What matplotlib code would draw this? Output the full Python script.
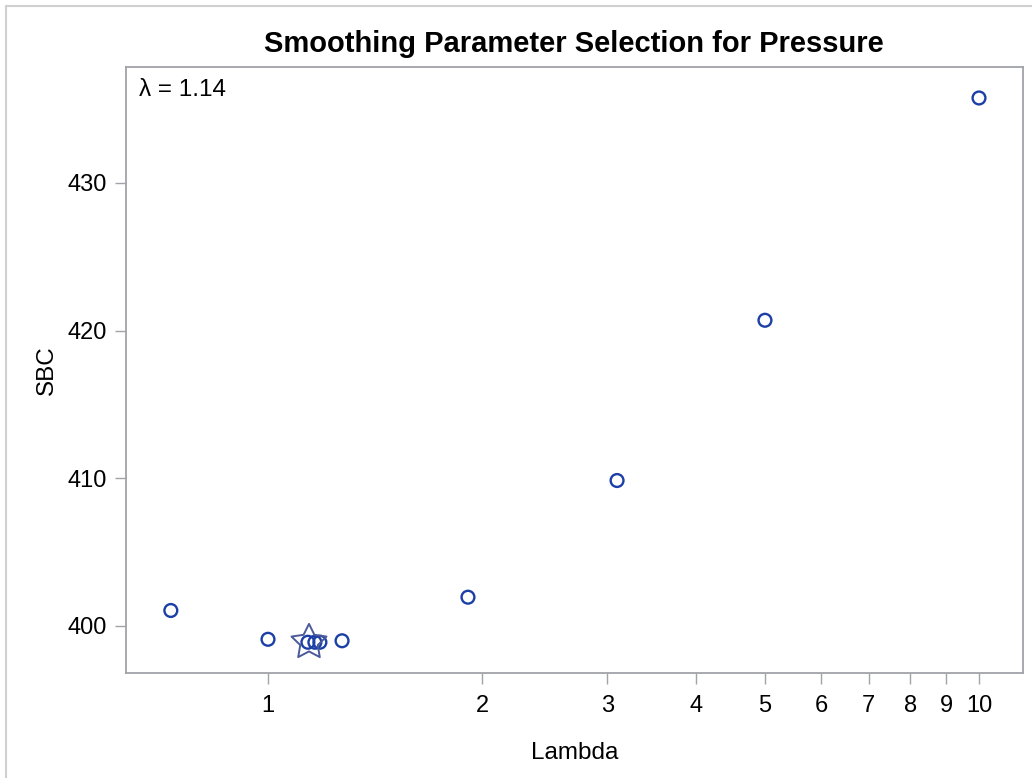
import matplotlib
matplotlib.use("Agg")
import matplotlib.pyplot as plt
from matplotlib.ticker import FixedLocator, NullLocator, NullFormatter, FixedFormatter
from matplotlib.lines import Line2D

plt.rcParams['font.family'] = ['Liberation Sans', 'DejaVu Sans']

lam = [0.73, 1.0, 1.138, 1.164, 1.183, 1.271, 1.911, 3.097, 5.0, 10.0]
sbc = [401.05, 399.1, 398.9, 398.9, 398.9, 399.0, 401.95, 409.85, 420.7, 435.75]
best_lam = 1.142
best_sbc = 398.9
xticks = [1, 2, 3, 4, 5, 6, 7, 8, 9, 10]
yticks = [400, 410, 420, 430]

W, H = 1032, 778
fig = plt.figure(figsize=(W/100, H/100), dpi=100)
ax = fig.add_axes([125.5/W, 1-672.5/H, (1023-125.5)/W, (672.5-67)/H])

ax.set_xscale('log')
ax.scatter(lam, sbc, s=85, facecolors='none', edgecolors='#1b3fa6', linewidths=1.7, zorder=3)
ax.scatter([best_lam], [best_sbc], marker=(5, 1, 0), s=700, facecolors='none',
           edgecolors='#4a5a9a', linewidths=1.4, zorder=4)

ax.set_xlim(10**((125.5-268)/711), 10**((1023-268)/711))
ax.set_ylim(400 + (626-672.5)/14.77, 400 + (626-67)/14.77)

ax.xaxis.set_major_locator(FixedLocator(xticks))
ax.xaxis.set_major_formatter(FixedFormatter([str(t) for t in xticks]))
ax.xaxis.set_minor_locator(NullLocator())
ax.xaxis.set_minor_formatter(NullFormatter())
ax.set_yticks(yticks)
ax.set_yticklabels([str(t) for t in yticks])

for s in ax.spines.values():
    s.set_color('#a0a3a8')
    s.set_linewidth(1.3)
ax.tick_params(axis='both', colors='#a0a3a8', labelcolor='black', labelsize=17,
               length=8, width=1.0)
ax.tick_params(axis='y', pad=5.5)
ax.tick_params(axis='x', pad=8.5)

ax.set_xlabel('Lambda', fontsize=17.5, labelpad=18)
ax.set_ylabel('SBC', fontsize=17.5, labelpad=7)
ax.set_title('Smoothing Parameter Selection for Pressure', fontsize=21,
             fontweight='bold', pad=11)
fig.text(139/W, 1-90/H, 'λ = 1.14', fontsize=17.5, ha='left', va='center')

# outer frame (top and left edges visible)
fig.add_artist(Line2D([6/W, 6/W], [0, 1-6/H], transform=fig.transFigure,
                      color='#d0d0d0', linewidth=1.5))
fig.add_artist(Line2D([6/W, 1], [1-6/H, 1-6/H], transform=fig.transFigure,
                      color='#d0d0d0', linewidth=1.5))

fig.savefig('out.png', dpi=100)
